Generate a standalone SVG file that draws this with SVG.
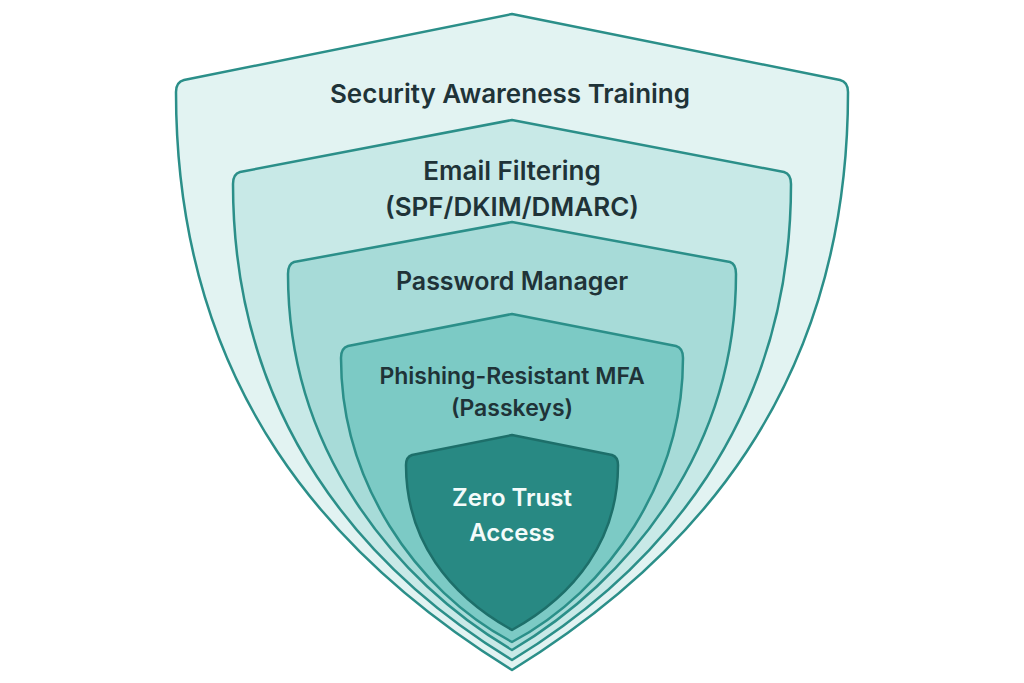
<svg xmlns="http://www.w3.org/2000/svg" width="1024" height="683" viewBox="0 0 1024 683">
<style>
.s{stroke:#2b8f89;stroke-width:2.5;stroke-linejoin:round}
.t{font-family:Inter,"Liberation Sans",sans-serif;font-weight:600;fill:#1f3338;text-anchor:middle}
.w{fill:#f4fbfa}
</style>
<rect width="1024" height="683" fill="#ffffff"/>
<g id="layer1"><path class="s" fill="#e2f3f2" d="M512,14 L840,80 Q848,82 848,92 C848,390 690,560 512,670 C334,560 176,390 176,92 Q176,82 184,80 Z"/>
<text class="t" x="510" y="103" font-size="26">Security Awareness Training</text></g>
<g id="layer2"><path class="s" fill="#c8e9e7" d="M512,120 L784,172 Q791,174 791,184 C791,420 660,570 512,660 C364,570 233,420 233,184 Q233,174 240,172 Z"/>
<text class="t" x="512" y="180" font-size="26">Email Filtering</text>
<text class="t" x="512" y="216" font-size="26">(SPF/DKIM/DMARC)</text></g>
<g id="layer3"><path class="s" fill="#a7dbd8" d="M512,222 L730,262 Q736,264 736,274 C736,450 630,580 512,650 C394,580 288,450 288,274 Q288,264 294,262 Z"/>
<text class="t" x="512" y="290" font-size="25">Password Manager</text></g>
<g id="layer4"><path class="s" fill="#7ccac5" d="M512,314 L676,346 Q683,348 683,358 C683,480 610,590 512,642 C414,590 341,480 341,358 Q341,348 348,346 Z"/>
<text class="t" x="512" y="384" font-size="23">Phishing-Resistant MFA</text>
<text class="t" x="512" y="416" font-size="23">(Passkeys)</text></g>
<g id="layer5"><path stroke="#1d6f6a" stroke-width="2.5" stroke-linejoin="round" fill="#288983" d="M512,435 L612,455 Q618,457 618,465 C618,540 575,595 512,630 C449,595 406,540 406,465 Q406,457 412,455 Z"/>
<text class="t w" x="512" y="506" font-size="24">Zero Trust</text>
<text class="t w" x="512" y="541" font-size="24">Access</text></g>
<g id="connectors"/>
</svg>
